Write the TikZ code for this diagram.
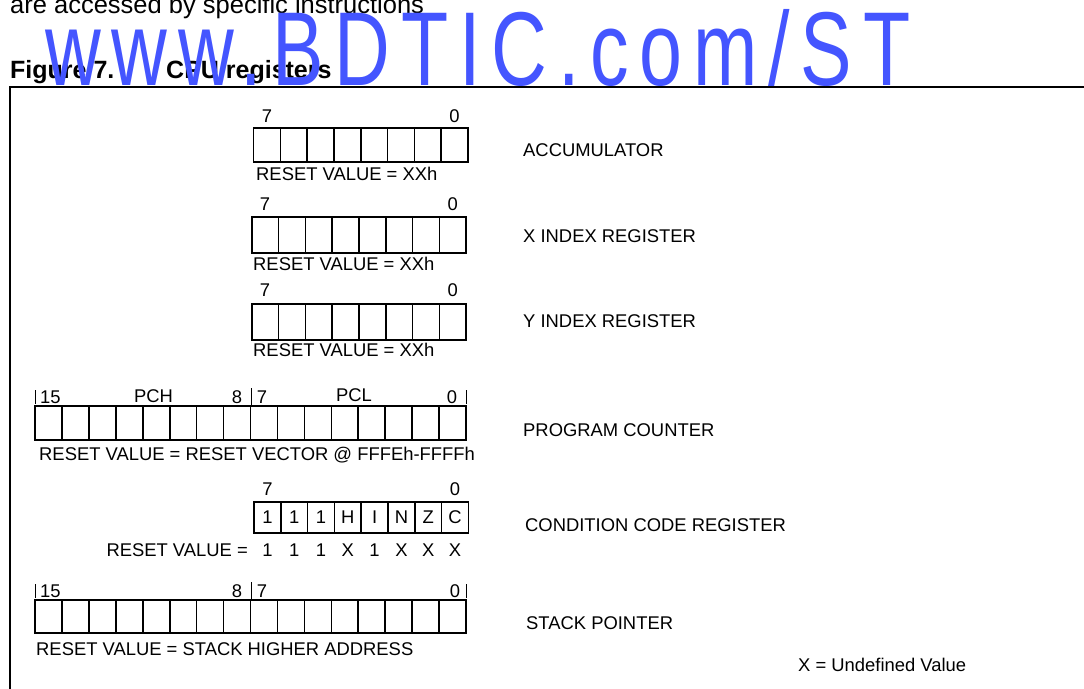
\documentclass[tikz,border=0pt]{standalone}
\usepackage{fontspec}
\setmainfont{Liberation Sans}
\newfontfamily\wmfont[LetterSpace=14]{Liberation Sans}
\definecolor{wmblue}{RGB}{68,85,255}
\usetikzlibrary{positioning}

\begin{document}
\begin{tikzpicture}[x=1pt,y=-1pt,
    bitcell/.style={draw,line width=1.6pt,minimum width=26.8pt,minimum height=34pt,
                    inner sep=0pt,font=\fontsize{18.4}{20}\selectfont},
    wbitcell/.style={bitcell,minimum width=26.94pt},
    lbl/.style={anchor=base west,inner sep=0pt,font=\fontsize{18.4}{20}\selectfont},
    bitno/.style={anchor=base,inner sep=0pt,font=\fontsize{18.4}{20}\selectfont}]
  \useasboundingbox (0,0) rectangle (1084,688);
  \clip (0,0) rectangle (1084,688);

  % text above the figure
  \node[anchor=base west,inner sep=0pt,font=\fontsize{25.5}{28}\selectfont]
        (intro) at (10,13.3) {are accessed by specific instructions};
  \node[anchor=base west,inner sep=0pt,font=\fontsize{25}{28}\selectfont\bfseries]
        (fignum) at (10,78) {Figure 7.};
  \node[anchor=base west,inner sep=0pt,font=\fontsize{25}{28}\selectfont\bfseries]
        (figtitle) at (166,78) {CPU registers};
  \draw[line width=1.3pt] (1100,87) -- (10,87) -- (10,700);

  % accumulator
  \foreach \i in {0,...,7}
    \node[bitcell,minimum height=34pt] (acc\i) at ({253.5+13.4+26.8*\i},145) {};
  \node[bitno] (acchi) at (acc0 |- 0,122.5) {7};
  \node[bitno] (acclo) at (acc7 |- 0,122.5) {0};
  \node[lbl] (accrst) at (256,180) {RESET VALUE = XXh};
  \node[lbl] (accname) at (523,156.5) {ACCUMULATOR};

  % x index register
  \foreach \i in {0,...,7}
    \node[bitcell,minimum height=36pt] (xr\i) at ({251.7+13.4+26.8*\i},235) {};
  \node[bitno] (xrhi) at (xr0 |- 0,210) {7};
  \node[bitno] (xrlo) at (xr7 |- 0,210) {0};
  \node[lbl] (xrrst) at (253,270) {RESET VALUE = XXh};
  \node[lbl] (xrname) at (523,242.5) {X INDEX REGISTER};

  % y index register
  \foreach \i in {0,...,7}
    \node[bitcell,minimum height=36pt] (yr\i) at ({251.7+13.4+26.8*\i},322) {};
  \node[bitno] (yrhi) at (yr0 |- 0,296) {7};
  \node[bitno] (yrlo) at (yr7 |- 0,296) {0};
  \node[lbl] (yrrst) at (253,356.7) {RESET VALUE = XXh};
  \node[lbl] (yrname) at (523,327.5) {Y INDEX REGISTER};

  % program counter
  \foreach \i in {0,...,15}
    \node[wbitcell] (pc\i) at ({35+13.47+26.94*\i},423) {};
  \draw[line width=0.9pt] (35.7,390) -- (35.7,404);
  \draw[line width=0.9pt] (pc7.north east) -- ++(0,-17);
  \draw[line width=0.9pt] (466,390) -- (466,404);
  \node[lbl] (pchi) at (40,403) {15};
  \node[bitno] (pch) at (153.5,402) {PCH};
  \node[bitno] (pcb8) at (237,403) {8};
  \node[bitno] (pcb7) at (262,403) {7};
  \node[bitno] (pcl) at (354,401) {PCL};
  \node[bitno] (pclo) at (452,403) {0};
  \node[lbl] (pcrst) at (39,460) {RESET VALUE = RESET VECTOR @ FFFEh-FFFFh};
  \node[lbl] (pcname) at (523,436.5) {PROGRAM COUNTER};

  % condition code register
  \foreach \i/\t in {0/1,1/1,2/1,3/H,4/I,5/N,6/Z,7/C}
    \node[bitcell,minimum height=31pt] (cc\i) at ({254+13.4+26.8*\i},517.5) {\t};
  \node[bitno] (cchi) at (cc0 |- 0,495) {7};
  \node[bitno] (cclo) at (cc7 |- 0,495) {0};
  \node[anchor=base east,inner sep=0pt,font=\fontsize{18.4}{20}\selectfont]
        (ccrst) at (248,556) {RESET VALUE =};
  \foreach \i/\t in {0/1,1/1,2/1,3/X,4/1,5/X,6/X,7/X}
    \node[bitno] (ccv\i) at (cc\i |- 0,556) {\t};
  \node[lbl] (ccname) at (525,531.5) {CONDITION CODE REGISTER};

  % stack pointer
  \foreach \i in {0,...,15}
    \node[wbitcell,minimum height=33pt] (sp\i) at ({35+13.47+26.94*\i},616.5) {};
  \draw[line width=0.9pt] (35.7,584) -- (35.7,598);
  \draw[line width=0.9pt] (sp7.north east) -- ++(0,-17);
  \draw[line width=0.9pt] (466,584) -- (466,598);
  \node[lbl] (sphi) at (40,597) {15};
  \node[bitno] (spb8) at (237,597) {8};
  \node[bitno] (spb7) at (262,597) {7};
  \node[bitno] (splo) at (455,597) {0};
  \node[lbl] (sprst) at (36,655) {RESET VALUE = STACK HIGHER ADDRESS};
  \node[lbl] (spname) at (526,629.5) {STACK POINTER};

  \node[lbl] (undef) at (798,671.5) {X = Undefined Value};

  % watermark on top
  \node[anchor=base west,inner sep=0pt,text=wmblue] (wmark) at (45,85)
        {\scalebox{0.735}[1]{\wmfont\fontsize{105}{110}\selectfont www.BDTIC.com/ST}};
\end{tikzpicture}
\end{document}
